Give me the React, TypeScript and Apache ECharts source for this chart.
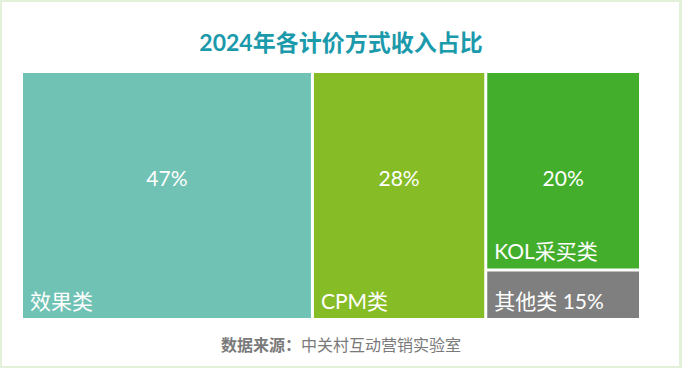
import React, { useEffect, useRef } from "react";
import * as echarts from "echarts";

// Categories, cell sizes (as drawn in the reference) and printed percentage labels
const categories = ["效果类", "CPM类", "KOL采买类", "其他类"];
const cellValues = [47, 28, 20, 5];
const percentLabels = ["47%", "28%", "20%", "15%"];
const cellColors = ["#70c2b4", "#86bc25", "#43ae2c", "#7f7f7f"];

const titleText = "2024年各计价方式收入占比";
const sourceLabel = "数据来源：";
const sourceText = "中关村互动营销实验室";

const FONT = "Lato, 'Noto Sans CJK SC', sans-serif";

export default function App() {
  const ref = useRef<HTMLDivElement>(null);

  useEffect(() => {
    if (!ref.current) return;
    const chart = echarts.init(ref.current, undefined, { renderer: "svg" });

    const smallIdx = cellValues.indexOf(Math.min(...cellValues));

    const baseData = categories.map((name, i) => ({
      name,
      value: cellValues[i],
      itemStyle: { color: cellColors[i] },
      label:
        i === smallIdx
          ? { formatter: `${name} ${percentLabels[i]}` }
          : undefined,
    }));

    const overlayData = categories.map((name, i) => ({
      name,
      value: cellValues[i],
      itemStyle: { color: "rgba(0,0,0,0)" },
      label: i === smallIdx ? { show: false } : { formatter: percentLabels[i] },
    }));

    const geom = {
      left: 23,
      top: 73,
      width: 616,
      height: 245,
    };

    const common = {
      type: "treemap" as const,
      ...geom,
      roam: false,
      nodeClick: false as const,
      breadcrumb: { show: false },
      silent: true,
      squareRatio: 1,
      levels: [
        { itemStyle: { borderWidth: 0, gapWidth: 3 } },
        { itemStyle: { borderWidth: 0, gapWidth: 0 } },
      ],
    };

    chart.setOption({
      animation: false,
      backgroundColor: "#ffffff",
      title: [
        {
          text: titleText,
          left: "center",
          top: 30,
          padding: 0,
          textStyle: {
            fontFamily: FONT,
            fontSize: 23,
            fontWeight: "bold",
            color: "#1b9aab",
          },
        },
        {
          text: `{b|${sourceLabel}}{n|${sourceText}}`,
          left: "center",
          top: 336,
          padding: 0,
          textStyle: {
            fontWeight: "normal",
            rich: {
              b: {
                fontFamily: FONT,
                fontSize: 16,
                fontWeight: "bold",
                color: "#7a7a7a",
              },
              n: {
                fontFamily: FONT,
                fontSize: 16,
                fontWeight: "normal",
                color: "#7a7a7a",
              },
            },
          },
        },
      ],
      series: [
        {
          ...common,
          data: baseData,
          label: {
            show: true,
            position: "insideBottomLeft",
            distance: 2,
            formatter: "{b}",
            color: "#ffffff",
            fontFamily: FONT,
            fontSize: 21,
          },
        },
        {
          ...common,
          data: overlayData,
          label: {
            show: true,
            position: ["50%", 104],
            align: "center",
            verticalAlign: "middle",
            color: "#ffffff",
            fontFamily: FONT,
            fontSize: 21,
          },
        },
      ],
    });

    return () => chart.dispose();
  }, []);

  return (
    <div style={{ position: "fixed", left: 0, top: 0, width: 682, height: 368 }}>
      <div ref={ref} style={{ width: 682, height: 368 }} />
      <div
        style={{
          position: "absolute",
          left: 0,
          top: 0,
          width: 682,
          height: 368,
          boxSizing: "border-box",
          borderStyle: "solid",
          borderColor: "#e3f1d9",
          borderWidth: "2px 3px 2px 2px",
          pointerEvents: "none",
        }}
      />
    </div>
  );
}
